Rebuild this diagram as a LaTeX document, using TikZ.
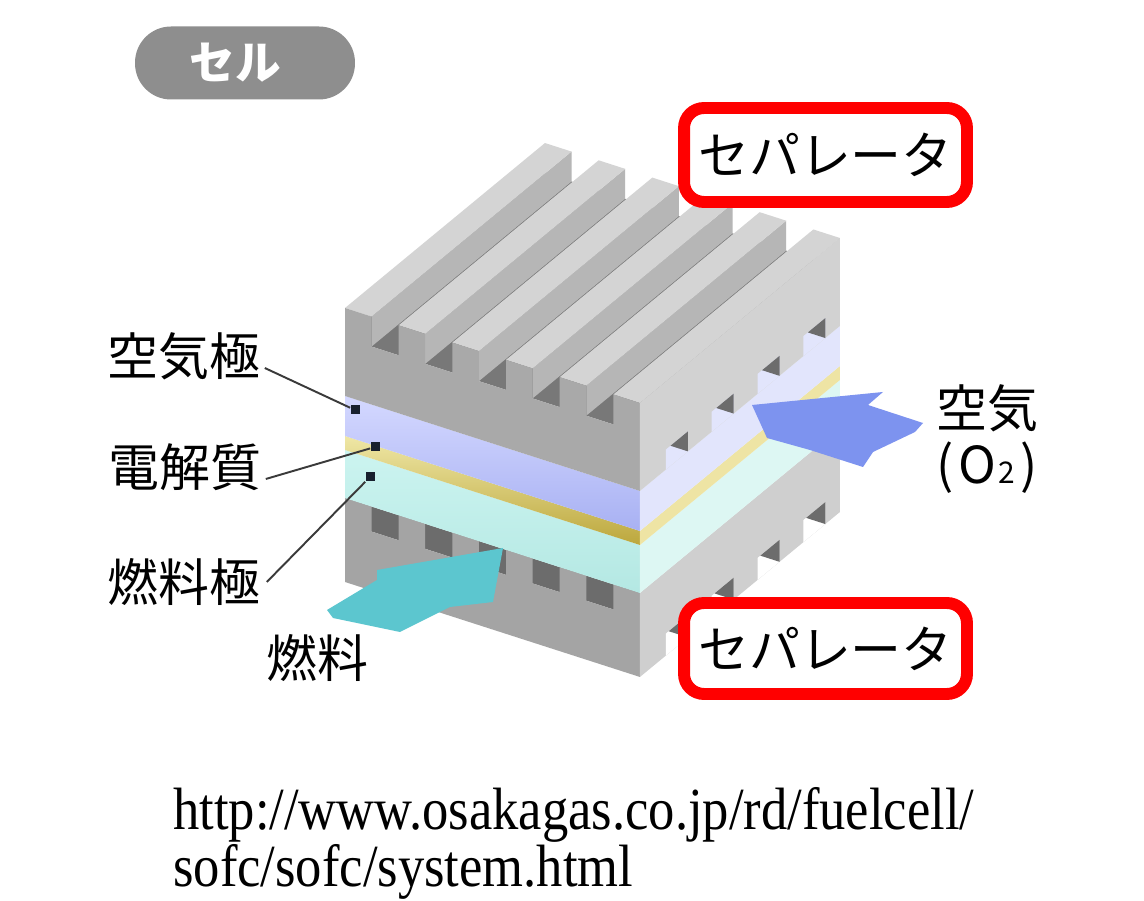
\documentclass[tikz,border=0pt]{standalone}
\usepackage{fontspec}
\usepackage{graphicx}
\usetikzlibrary{calc}
\newfontfamily\jp{Noto Sans CJK JP}
\newfontfamily\urlfont[FakeStretch=0.88]{Liberation Serif}

\definecolor{pillgray}{HTML}{8E8E8E}
\definecolor{boxred}{HTML}{FF0000}
\definecolor{tbfrontc}{HTML}{A9A9A9}
\definecolor{tbrightc}{HTML}{D2D2D2}
\definecolor{ribtopc}{HTML}{D4D4D4}
\definecolor{ribsidec}{HTML}{B6B6B6}
\definecolor{groovec}{HTML}{787878}
\definecolor{lbfrontc}{HTML}{A4A4A4}
\definecolor{lbrightc}{HTML}{CFCFCF}
\definecolor{notchc}{HTML}{6C6C6C}
\definecolor{bluehi}{HTML}{D4D8FF}
\definecolor{bluelo}{HTML}{A8B1F3}
\definecolor{blueside}{HTML}{E2E5FC}
\definecolor{yelhi}{HTML}{EFE7A6}
\definecolor{yello}{HTML}{BCA73C}
\definecolor{yelside}{HTML}{EEE4A4}
\definecolor{cyanhi}{HTML}{CCF4F0}
\definecolor{cyanlo}{HTML}{B4E8E3}
\definecolor{cyanside}{HTML}{DDF7F3}
\definecolor{fuelarrow}{HTML}{5CC6CF}
\definecolor{airarrow}{HTML}{7D93EF}
\definecolor{leaderc}{HTML}{3A3A3A}
\definecolor{dotc}{HTML}{18202E}

\begin{document}
\begin{tikzpicture}[x=0.02cm,y=-0.02cm,
  jplabel/.style={font=\jp\fontsize{29}{29}\selectfont, text=black, inner sep=0pt},
  redbox/.style={draw=boxred, fill=white, line width=6.8pt, rounded corners=0.4cm,
    minimum width=5.66cm, inner sep=0pt, font=\jp\fontsize{29}{29}\selectfont},
  leader/.style={draw=leaderc, line width=1.1pt},
  dot/.style={fill=dotc, rectangle, minimum size=0.18cm, inner sep=0pt},
  urltext/.style={font=\urlfont\fontsize{34}{34}\selectfont, inner sep=0pt, anchor=base west}]

\useasboundingbox (0,0) rectangle (1144,901);
\fill[white] (0,0) rectangle (1144,901);

% ---------- cell stack, drawn in oblique (s, t, h) coordinates ----------
\begin{scope}[shift={(345,582)}, x={(5.9cm,-1.9cm)}, y={(4cm,3.3cm)}, z={(0cm,0.02cm)}]

  % lower separator: front face with fuel channels on top
  \fill[notchc] (0,0,59) -- (1,0,59) -- (1,0,84) -- (0,0,84) -- cycle;
  \fill[lbfrontc] (0,0,0) -- (1,0,0)
    \foreach \i [evaluate=\i as \sa using 0.182*\i, evaluate=\i as \sb using 0.182*\i+0.09] in {5,4,...,0}
      { -- (\sb,0,59) -- (\sb,0,84) -- (\sa,0,84) -- (\sa,0,59) } -- cycle;

  % lower separator: right face with channels on its underside
  \fill[lbrightc] (1,0,0) -- (1,1,0) -- (1,1,84) -- (1,0,84) -- cycle;
  \foreach \k [evaluate=\k as \ta using 0.13+0.229*\k, evaluate=\k as \tb using 0.24+0.229*\k] in {0,...,3}{
    \fill[white] (1,\ta,0) -- (1,\tb,0) -- (1,\tb,22) -- (1,\ta,22) -- cycle;
    \begin{scope}
      \clip (1,\ta,0) -- (1,\tb,0) -- (1,\tb,22) -- (1,\ta,22) -- cycle;
      \fill[notchc] (0.6,\tb,0) -- (1,\tb,0) -- (1,\tb,22) -- (0.6,\tb,22) -- cycle;
    \end{scope}
  }

  % fuel electrode
  \shade[top color=cyanhi, bottom color=cyanlo] (0,0,84) -- (1,0,84) -- (1,0,132) -- (0,0,132) -- cycle;
  \fill[cyanside] (1,0,84) -- (1,1,84) -- (1,1,132) -- (1,0,132) -- cycle;
  % electrolyte
  \shade[top color=yelhi, bottom color=yello] (0,0,132) -- (1,0,132) -- (1,0,146) -- (0,0,146) -- cycle;
  \fill[yelside] (1,0,132) -- (1,1,132) -- (1,1,146) -- (1,0,146) -- cycle;
  % air electrode
  \shade[top color=bluehi, bottom color=bluelo] (0,0,146) -- (1,0,146) -- (1,0,186) -- (0,0,186) -- cycle;
  \fill[blueside] (1,0,146) -- (1,1,146) -- (1,1,186) -- (1,0,186) -- cycle;

  % upper separator: groove floor, then ribs from back to front
  \fill[groovec] (0,0,244) -- (1,0,244) -- (1,1,244) -- (0,1,244) -- cycle;
  \foreach \i [evaluate=\i as \sa using 0.182*\i, evaluate=\i as \sb using 0.182*\i+0.09] in {0,...,5}{
    \fill[ribsidec] (\sb,0,244) -- (\sb,1,244) -- (\sb,1,274) -- (\sb,0,274) -- cycle;
    \fill[ribtopc] (\sa,0,274) -- (\sb,0,274) -- (\sb,1,274) -- (\sa,1,274) -- cycle;
  }
  % upper separator: front face with rib ends
  \fill[tbfrontc] (0,0,186) -- (1,0,186)
    \foreach \i [evaluate=\i as \sa using 0.182*\i, evaluate=\i as \sb using 0.182*\i+0.09] in {5,4,...,0}
      { -- (\sb,0,244) -- (\sb,0,274) -- (\sa,0,274) -- (\sa,0,244) } -- cycle;
  % upper separator: right face with air channels on its underside
  \fill[tbrightc] (1,0,186) -- (1,1,186) -- (1,1,274) -- (1,0,274) -- cycle;
  \foreach \k [evaluate=\k as \ta using 0.13+0.229*\k, evaluate=\k as \tb using 0.24+0.229*\k] in {0,...,3}{
    \fill[blueside] (1,\ta,186) -- (1,\tb,186) -- (1,\tb,206) -- (1,\ta,206) -- cycle;
    \begin{scope}
      \clip (1,\ta,186) -- (1,\tb,186) -- (1,\tb,206) -- (1,\ta,206) -- cycle;
      \fill[notchc] (0.6,\tb,186) -- (1,\tb,186) -- (1,\tb,206) -- (0.6,\tb,206) -- cycle;
    \end{scope}
  }
\end{scope}

% gas flow arrows
\fill[fuelarrow] (327,610) -- (377,580) -- (377,570) -- (503,548) -- (493,602)
  -- (450,607) -- (400,632) -- (333,618) -- cycle;
\fill[airarrow] (752,405) -- (883,392) -- (868,405) -- (923,423) -- (915,432)
  -- (873,452) -- (863,467) -- (810,450) -- (767,438) -- cycle;

% title pill
\node[fill=pillgray, rounded corners=0.72cm, minimum width=4.4cm, minimum height=1.46cm,
  inner sep=0pt] (pill) at (245,63) {};
\node[font=\jp\bfseries\fontsize{26}{26}\selectfont, text=white, inner sep=0pt] (celltitle) at (235,63) {セル};

% separator labels
\node[redbox, minimum height=1.88cm] (septop) at (825.5,155) {セパレータ};
\node[redbox, minimum height=1.82cm] (sepbot) at (825.5,648.5) {セパレータ};

% layer labels with leaders
\node[jplabel] (lair) at (184,356) {空気極};
\node[jplabel] (lelec) at (185,467) {電解質};
\node[jplabel] (lfuel) at (184,582) {燃料極};
\node[dot] (dair) at (355,410) {};
\node[dot] (delec) at (375,447) {};
\node[dot] (dfuel) at (370,477) {};
\draw[leader] ($(lair.east)+(4,12)$) -- (dair);
\draw[leader] ($(lelec.east)+(4,12)$) -- (delec);
\draw[leader] ($(lfuel.east)+(6,0)$) -- (dfuel);

% gas labels
\node[jplabel] (lfuelgas) at (317,658) {燃料};
\node[jplabel] (lairgas) at (987,408) {空気};
\node[jplabel] (lo2) at (987,468) {(\kern3pt O{\fontsize{17}{17}\selectfont\kern1pt 2}\kern3pt)};

% source
\node[urltext] (url1) at (173,830) {http://www.osakagas.co.jp/rd/fuelcell/};
\node[urltext] (url2) at (173,887) {sofc/sofc/system.html};
\end{tikzpicture}
\end{document}
